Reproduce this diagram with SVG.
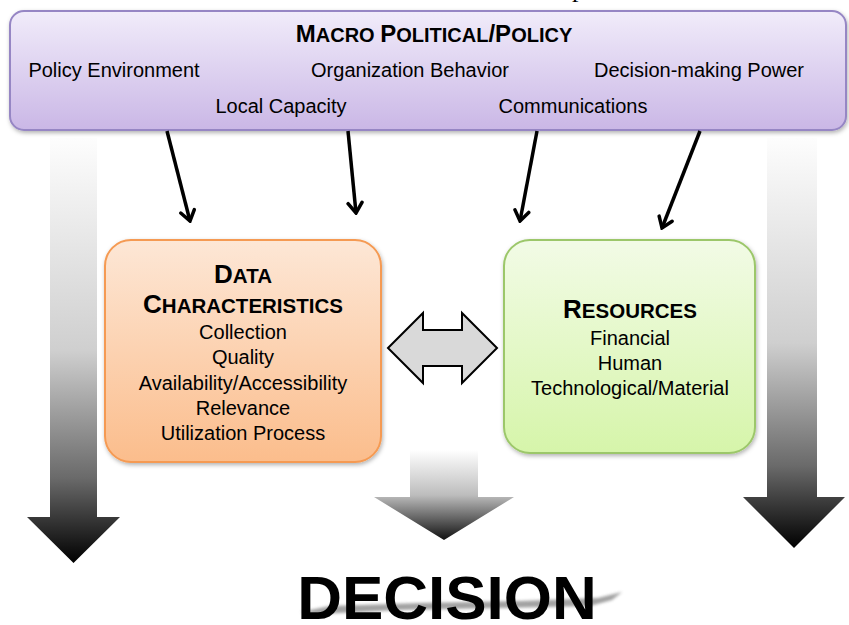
<svg xmlns="http://www.w3.org/2000/svg" width="849" height="625" viewBox="0 0 849 625">
<defs>
  <linearGradient id="gPurple" x1="0" y1="0" x2="0" y2="1">
    <stop offset="0" stop-color="#f1ecfa"/>
    <stop offset="1" stop-color="#cab7e6"/>
  </linearGradient>
  <linearGradient id="gOrange" x1="0" y1="0" x2="0" y2="1">
    <stop offset="0" stop-color="#fde7d6"/>
    <stop offset="1" stop-color="#fbbd8c"/>
  </linearGradient>
  <linearGradient id="gGreen" x1="0" y1="0" x2="0" y2="1">
    <stop offset="0" stop-color="#f2fbe6"/>
    <stop offset="1" stop-color="#d6f5aa"/>
  </linearGradient>
  <linearGradient id="gLeft" gradientUnits="userSpaceOnUse" x1="0" y1="138" x2="0" y2="563">
    <stop offset="0" stop-color="#fdfdfd"/>
    <stop offset="0.5" stop-color="#cfcfcf"/>
    <stop offset="0.8" stop-color="#6a6a6a"/>
    <stop offset="1" stop-color="#000"/>
  </linearGradient>
  <linearGradient id="gRight" gradientUnits="userSpaceOnUse" x1="0" y1="138" x2="0" y2="548">
    <stop offset="0" stop-color="#fdfdfd"/>
    <stop offset="0.5" stop-color="#cfcfcf"/>
    <stop offset="0.8" stop-color="#6a6a6a"/>
    <stop offset="1" stop-color="#000"/>
  </linearGradient>
  <linearGradient id="gMid" gradientUnits="userSpaceOnUse" x1="0" y1="450" x2="0" y2="540">
    <stop offset="0" stop-color="#ffffff"/>
    <stop offset="0.5" stop-color="#bdbdbd"/>
    <stop offset="1" stop-color="#111"/>
  </linearGradient>
  <filter id="shadow" x="-10%" y="-10%" width="120%" height="125%">
    <feDropShadow dx="1" dy="2" stdDeviation="2" flood-color="#000" flood-opacity="0.3"/>
  </filter>
  <filter id="blur" x="-20%" y="-200%" width="140%" height="500%">
    <feGaussianBlur stdDeviation="1.5"/>
  </filter>
  <marker id="ah" viewBox="-13 -9 15 18" refX="0" refY="0" markerWidth="15" markerHeight="18" markerUnits="userSpaceOnUse" orient="auto">
    <path d="M-10,-7 L0,0 L-10,7" fill="none" stroke="#000" stroke-width="3.5" stroke-linecap="round"/>
  </marker>
</defs>
<style>
  text { font-family: "Liberation Sans", Arial, sans-serif; fill: #000; }
  .t { font-size: 20px; text-anchor: middle; }
  .h { font-weight: bold; text-anchor: middle; }
  .cap { font-size: 26px; }
  .sc { font-size: 20.5px; }
  .conn { stroke: #000; stroke-width: 3.5; fill: none; marker-end: url(#ah); }
</style>

<text x="572" y="-3" style="font-family: 'Liberation Serif', serif; font-size: 26px;">p</text>

<g id="flow-arrows">
  <polygon id="left-flow" points="50,138 97,138 97,517 120,517 73.5,563 27,517 50,517" fill="url(#gLeft)"/>
  <polygon id="right-flow" points="767,138 817,138 817,497 845,497 794,548 743,497 767,497" fill="url(#gRight)"/>
  <polygon id="mid-flow" points="410,450 478,450 478,497 514,497 444,540 374,497 410,497" fill="url(#gMid)"/>
</g>

<g id="macro">
  <rect x="10" y="11" width="836" height="119" rx="14" fill="url(#gPurple)" stroke="#9686c4" stroke-width="2" filter="url(#shadow)"/>
  <text class="h" x="434" y="42"><tspan font-size="24">M</tspan><tspan font-size="20">ACRO </tspan><tspan font-size="24">P</tspan><tspan font-size="20">OLITICAL</tspan><tspan font-size="24">/P</tspan><tspan font-size="20">OLICY</tspan></text>
  <text class="t" x="114" y="77">Policy Environment</text>
  <text class="t" x="410" y="77">Organization Behavior</text>
  <text class="t" x="699" y="77">Decision-making Power</text>
  <text class="t" x="281" y="113">Local Capacity</text>
  <text class="t" x="573" y="113">Communications</text>
</g>

<g id="connectors">
  <line class="conn" x1="167" y1="131" x2="190" y2="221"/>
  <line class="conn" x1="348" y1="131" x2="356" y2="213"/>
  <line class="conn" x1="537" y1="131" x2="520" y2="221"/>
  <line class="conn" x1="700" y1="131" x2="662" y2="228"/>
  <polygon id="double-arrow" points="388,348 423,313 423,330 462,330 462,313 497,348 462,383 462,366 423,366 423,383" fill="#d9d9d9" stroke="#000" stroke-width="2" stroke-linejoin="miter"/>
</g>

<g id="data">
  <rect x="105" y="240" width="276" height="222" rx="26" fill="url(#gOrange)" stroke="#f59a52" stroke-width="2" filter="url(#shadow)"/>
  <text class="h" x="243" y="283"><tspan class="cap">D</tspan><tspan class="sc">ATA</tspan></text>
  <text class="h" x="243" y="313"><tspan class="cap">C</tspan><tspan class="sc">HARACTERISTICS</tspan></text>
  <text class="t" x="243" y="339">Collection</text>
  <text class="t" x="243" y="364">Quality</text>
  <text class="t" x="243" y="390">Availability/Accessibility</text>
  <text class="t" x="243" y="415">Relevance</text>
  <text class="t" x="243" y="440">Utilization Process</text>
</g>

<g id="resources">
  <rect x="504" y="240" width="251" height="213" rx="26" fill="url(#gGreen)" stroke="#9cc76a" stroke-width="2" filter="url(#shadow)"/>
  <text class="h" x="630" y="318"><tspan class="cap">R</tspan><tspan class="sc">ESOURCES</tspan></text>
  <text class="t" x="630" y="345">Financial</text>
  <text class="t" x="630" y="370">Human</text>
  <text class="t" x="630" y="395">Technological/Material</text>
</g>

<g id="decision">
  <polygon points="300,612 330,606 420,603 520,601 598,598 622,592 612,600 590,606 500,608 400,610 320,614" fill="#8a8a8a" filter="url(#blur)" opacity="0.8"/>
  <text x="447" y="619" text-anchor="middle" font-weight="bold" font-size="62">DECISION</text>
</g>
</svg>
